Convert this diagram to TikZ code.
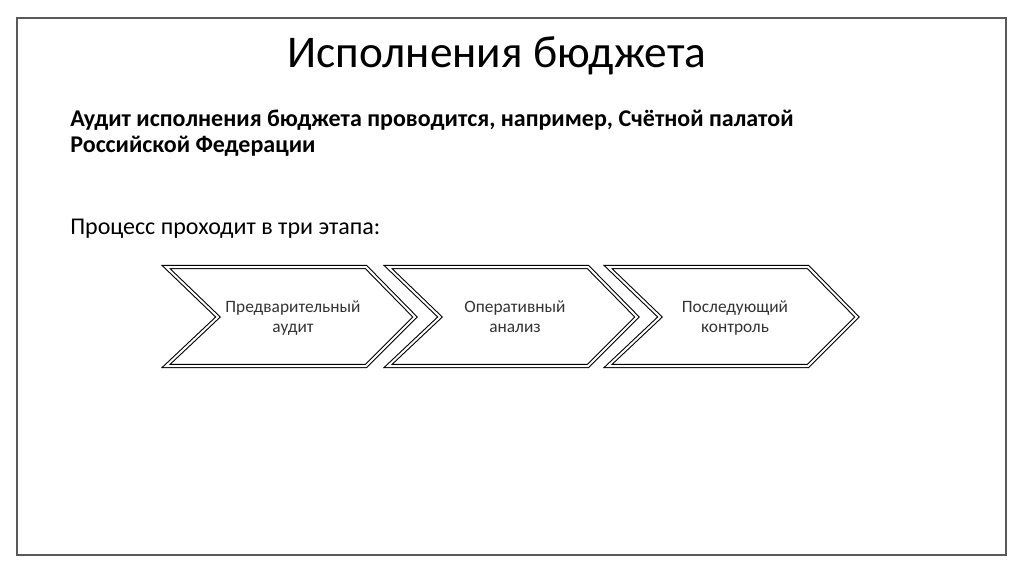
\documentclass[tikz,border=0pt]{standalone}
\usepackage{fontspec}
\setmainfont{Carlito}
\usepackage{xcolor}

\begin{document}
\begin{tikzpicture}[x=0.75pt,y=-0.75pt,
    stage/.style={draw=black, double=white, double distance=1.5pt, line width=0.8pt, line join=miter},
    stagetext/.style={anchor=base, inner sep=0pt, align=center, font=\fontsize{13pt}{15pt}\selectfont, text=black!80}]
      % \draw[help lines, gray!50, very thin] (0,0) grid (1024,574);
      \useasboundingbox (0,0) rectangle (1024,574);

      \draw[black!65, line width=1.1pt] (17,18) rectangle (1006,555);
      \node[anchor=base, inner sep=0pt, font=\fontsize{34pt}{40pt}\selectfont] (title) at (497,68) {Исполнения бюджета};
      \node[anchor=base west, inner sep=0pt, align=left, font=\bfseries\fontsize{18pt}{18.8pt}\selectfont] (audit) at (70,152)
        {Аудит исполнения бюджета проводится, например, Счётной палатой\\Российской Федерации};
      \node[anchor=base west, inner sep=0pt, font=\fontsize{18pt}{22pt}\selectfont] (process) at (70,234) {Процесс проходит в три этапа:};

      \foreach \x/\txt [count=\i] in {166/{Предварительный\\аудит}, 388/{Оперативный\\анализ}, 608/{Последующий\\контроль}} {
        \draw[stage] (\x,267) -- (\x+200,267) -- (\x+249,317) -- (\x+200,366) -- (\x,366) -- (\x+52,317) -- cycle;
        \node[stagetext] (stage\i) at (\x+127,332) {\txt};
      }
    \end{tikzpicture}
\end{document}
